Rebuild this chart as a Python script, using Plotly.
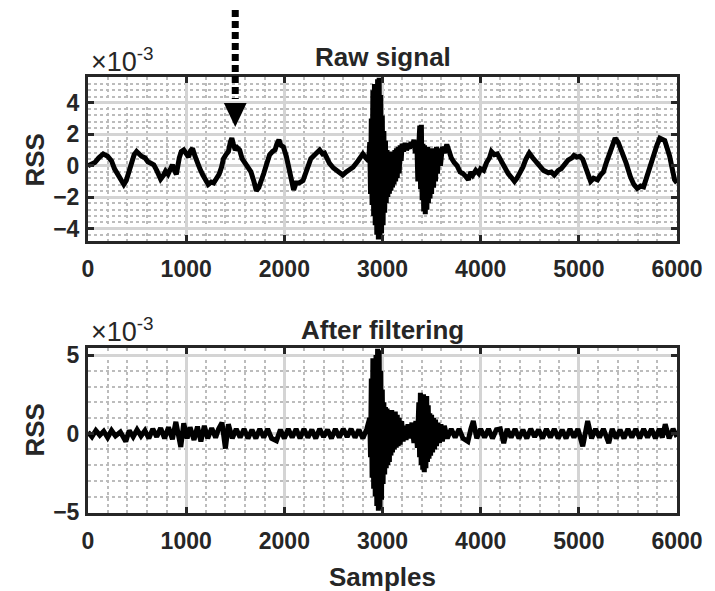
import plotly.graph_objects as go
from plotly.subplots import make_subplots

# ---------------- data (RSS values in units of 1e-3) ----------------
RAW_SAMPLES = [0, 40, 70, 110, 155, 200, 240, 270, 320, 365, 390, 420, 440, 470, 495, 520, 545, 580,
               610, 640, 670, 700, 740, 770, 790, 815, 840, 860, 880, 900, 930, 950, 975, 1000, 1025,
               1045, 1065, 1090, 1110, 1140, 1170, 1200, 1225, 1255, 1280, 1310, 1335, 1360, 1380,
               1410, 1430, 1450, 1465, 1480, 1500, 1520, 1545, 1570, 1600, 1630, 1660, 1690, 1715,
               1740, 1760, 1790, 1820, 1850, 1880, 1905, 1925, 1945, 1965, 1990, 2020, 2050, 2080,
               2095, 2120, 2150, 2190, 2215, 2240, 2270, 2310, 2340, 2360, 2390, 2410, 2440, 2460,
               2500, 2525, 2560, 2595, 2630, 2665, 2700, 2750, 2780, 2800, 2830, 2860,
               2870, 2878, 2886, 2894, 2902, 2910, 2918, 2926, 2934, 2942, 2950, 2958, 2966, 2974,
               2982, 2990, 2998, 3006, 3014, 3022, 3030, 3038, 3046, 3054, 3062, 3070, 3078, 3086,
               3094, 3102, 3110, 3118, 3126, 3134, 3142, 3150, 3160, 3170, 3180, 3190, 3200, 3215,
               3230, 3245, 3260, 3275, 3290, 3305, 3320, 3335,
               3350, 3360, 3370, 3380, 3388, 3396, 3404, 3412, 3420, 3428, 3436, 3444, 3452, 3460,
               3468, 3476, 3484, 3492, 3500, 3510, 3520, 3530, 3540, 3550, 3560, 3575, 3590, 3610,
               3630, 3655, 3680, 3700, 3730, 3760, 3790, 3820, 3850, 3875, 3900, 3920, 3950, 3980,
               4000, 4030, 4060, 4090, 4110, 4140, 4170, 4200, 4240, 4280, 4320, 4345, 4370, 4400,
               4430, 4460, 4495, 4530, 4560, 4600, 4640, 4690, 4720, 4750, 4790, 4820, 4850, 4890,
               4930, 4950, 4980, 5010, 5040, 5070, 5100, 5120, 5150, 5190, 5220, 5250, 5280, 5310,
               5340, 5370, 5400, 5440, 5480, 5525, 5560, 5595, 5630, 5660, 5690, 5740, 5795, 5825,
               5875, 5925, 5975, 6000]
RAW_VALUES = [0.0, 0.1, 0.2, 0.5, 0.75, 0.6, 0.3, -0.2, -0.7, -1.2, -0.95, -0.3, 0.3, 0.7, 0.9, 0.7,
              0.6, 0.5, 0.25, 0.15, 0.05, -0.3, -0.85, -0.6, -0.35, -0.55, -0.3, 0.05, -0.3, -0.55,
              0.5, 0.9, 1.0, 0.8, 0.55, 0.95, 1.1, 0.6, 0.2, -0.2, -0.6, -0.95, -1.2, -1.05, -1.1,
              -0.8, -0.55, -0.1, 0.45, 0.75, 0.9, 1.5, 1.75, 1.4, 1.0, 1.15, 1.0, 0.45, 0.2, -0.1,
              -0.4, -1.0, -1.6, -1.4, -1.1, -0.5, 0.1, 0.7, 0.9, 1.0, 1.4, 1.65, 1.3, 1.2, 0.6, -0.2,
              -1.3, -1.55, -1.1, -1.1, -0.95, -0.5, 0.05, 0.45, 0.7, 0.85, 1.0, 0.75, 0.8, 0.4, 0.15,
              -0.15, -0.25, -0.45, -0.6, -0.4, -0.25, -0.1, 0.3, 0.5, 0.75, 0.5, 0.3,
              1.5, -1.8, 3.0, -2.5, 4.8, -3.2, 5.2, -3.8, 4.6, -4.4, 5.5, -4.7, 5.6, -4.7,
              4.5, -4.3, 3.2, -3.8, 2.2, -3.0, 1.6, -2.4, 1.0, -2.0, 0.9, -1.8, 0.8, -1.6,
              0.9, -1.4, 0.7, -1.2, 1.0, -1.0, 1.1, -0.8, 1.2, -0.5, 1.3, 0.3, 1.4, 0.9,
              1.45, 1.0, 1.2, 1.1, 1.5, 1.2, 1.65, 0.8,
              1.5, -1.0, 1.3, 2.55, -1.5, 2.6, -2.2, 1.4, -2.9, 1.3, -3.1, 1.2, -2.8, 1.2,
              -2.4, 1.1, -2.1, 1.0, -1.8, 1.1, -1.4, 1.0, -1.0, 1.2, -0.5, 1.1, 0.0, 1.2,
              0.8, 1.35, 0.9, 0.5, 0.2, 0.0, -0.4, -0.5, -0.7, -0.9, -0.4, -0.6, -0.3, -0.5,
              -0.2, -0.3, 0.2, 0.5, 0.9, 0.7, 0.75, 0.4, -0.1, -0.5, -0.8, -1.0, -0.8, -0.5,
              -0.1, 0.4, 0.8, 0.5, 0.3, 0.0, -0.3, -0.45, -0.4, -0.6, -0.3, -0.2, 0.1, 0.35,
              0.5, 0.65, 0.55, 0.6, 0.4, -0.2, -0.7, -1.0, -0.8, -0.9, -0.6, -0.4, 0.2, 0.8,
              1.3, 1.75, 1.5, 0.9, 0.2, -0.7, -1.2, -1.45, -1.3, -1.35, -0.7, 0.3, 1.3, 1.75,
              1.6, 0.6, -0.9, -1.1]

FILT_SAMPLES = [0, 40, 80, 120, 160, 200, 240, 280, 330, 385, 420, 460, 500, 540, 580, 620, 660,
                700, 740, 780, 820, 860, 895, 945, 975, 1010, 1040, 1080, 1115, 1150, 1185, 1220,
                1260, 1300, 1330, 1365, 1400, 1430, 1470, 1510, 1550, 1590, 1630, 1670, 1710, 1750,
                1790, 1830, 1870, 1920, 1960, 2000, 2040, 2080, 2120, 2160, 2200, 2240, 2280, 2320,
                2360, 2400, 2440, 2480, 2520, 2560, 2600, 2640, 2680, 2720, 2760, 2800, 2840,
                2870, 2878, 2886, 2894, 2902, 2910, 2918, 2926, 2934, 2942, 2950, 2958, 2966, 2974,
                2982, 2990, 2998, 3006, 3014, 3022, 3030, 3038, 3046, 3054, 3062, 3070, 3078, 3086,
                3094, 3102, 3110, 3120, 3130, 3140, 3150, 3160, 3170, 3180, 3195, 3210, 3225, 3240,
                3260, 3280, 3300, 3320, 3340, 3355,
                3370, 3378, 3386, 3394, 3402, 3410, 3418, 3426, 3434, 3442, 3450, 3458, 3466, 3474,
                3482, 3490, 3500, 3510, 3520, 3530, 3540, 3550, 3565, 3580, 3595, 3610, 3630,
                3660, 3700, 3740, 3780, 3820, 3870, 3900, 3925, 3960, 4000, 4040, 4080, 4120, 4160,
                4200, 4235, 4270, 4310, 4350, 4390, 4430, 4470, 4510, 4550, 4590, 4630, 4670, 4710,
                4750, 4790, 4830, 4870, 4910, 4950, 4990, 5040, 5090, 5130, 5170, 5210, 5250, 5305,
                5340, 5380, 5420, 5460, 5500, 5540, 5580, 5620, 5660, 5700, 5740, 5780, 5820, 5850,
                5880, 5920, 5960, 6000]
FILT_VALUES = [0.1, -0.2, 0.2, -0.1, 0.15, -0.25, 0.2, -0.15, 0.1, -0.5, 0.2, -0.2, 0.25, -0.15,
               0.2, -0.3, 0.3, -0.2, 0.35, -0.3, 0.4, -0.35, 0.75, -0.85, 0.65, -0.3, 0.4, -0.4,
               0.45, -0.5, 0.5, -0.3, 0.35, -0.25, 0.3, 0.7, -0.95, 0.6, -0.3, 0.3, -0.25, 0.3,
               -0.3, 0.25, -0.3, 0.3, -0.25, 0.3, -0.3, -0.45, 0.25, -0.3, 0.3, -0.25, 0.3, -0.3,
               0.3, -0.25, 0.25, -0.3, 0.3, -0.2, 0.25, -0.3, 0.3, -0.25, 0.3, -0.2, 0.3, -0.25,
               0.25, -0.3, 0.3,
               1.0, -1.5, 3.5, -2.8, 4.8, -3.5, 4.5, -4.0, 5.0, -4.6, 5.4, -4.9, 5.3, -4.8,
               4.0, -4.2, 2.8, -3.2, 2.0, -2.6, 1.7, -2.2, 1.6, -2.0, 1.5, -1.8, 1.4, -1.4,
               1.5, -1.2, 1.3, -1.0, 1.4, -0.9, 1.2, -0.8, 1.0, -0.7, 0.8, -0.5, 0.5, -0.4,
               0.6, -0.3, 0.7, -0.6, 0.8, -0.9,
               2.0, -1.5, 2.6, -2.0, 2.2, -2.3, 2.5, -2.45, 2.3, -2.2, 2.4, -1.8, 1.8, -1.6,
               1.3, -1.4, 1.2, -1.2, 1.0, -1.0, 0.9, -0.8, 0.7, -0.6, 0.6, -0.5, 0.5,
               -0.3, 0.3, -0.25, 0.3, -0.3, -0.5, 0.3, 0.8, -0.3, 0.3, -0.25, 0.3, -0.3, 0.25,
               0.3, -0.6, 0.3, -0.25, 0.3, -0.3, 0.25, -0.3, 0.3, -0.2, 0.25, -0.3, 0.3, -0.25,
               0.3, -0.3, 0.25, -0.3, 0.3, -0.25, 0.3, -0.8, 0.8, -0.3, 0.3, -0.25, 0.3, -0.6,
               0.3, -0.3, 0.25, -0.3, 0.3, -0.25, 0.3, -0.3, 0.3, -0.25, 0.3, -0.3, 0.3, -0.25,
               0.6, -0.3, 0.3, -0.2]

X_TICKS = [0, 1000, 2000, 3000, 4000, 5000, 6000]
RAW_YTICKS = [-4, -2, 0, 2, 4]
FILT_YTICKS = [-5, 0, 5]
ARROW_SAMPLE = 1500

# ---------------- figure ----------------
W, H = 715, 591
ML, MR, MT, MB = 88, 32, 77, 78
PW, PH = W - ML - MR, H - MT - MB
TOP_BOTTOM_PX = 241
BOT_TOP_PX = 348

def py(p):  # pixel row -> paper y
    return (H - MB - p) / PH

def px(p):  # pixel column -> paper x
    return (p - ML) / PW

INK = '#262626'
FONT = 'Liberation Sans'

fig = make_subplots(rows=2, cols=1)
fig.add_trace(go.Scatter(x=RAW_SAMPLES, y=RAW_VALUES, mode='lines',
                         line=dict(color='black', width=5), showlegend=False), row=1, col=1)
fig.add_trace(go.Scatter(x=FILT_SAMPLES, y=FILT_VALUES, mode='lines',
                         line=dict(color='black', width=5), showlegend=False), row=2, col=1)

tickfont = dict(family=FONT, size=23, color=INK, weight='bold')
common = dict(showline=True, linewidth=3, linecolor=INK, mirror='ticks', ticks='inside',
              ticklen=6, tickwidth=3, tickcolor=INK, tickfont=tickfont, zeroline=False,
              showgrid=True, gridcolor='#d4d4d4', gridwidth=2.5)
minor_grid = dict(showgrid=True, gridcolor='#bcbcbc', griddash='dot', gridwidth=2)

fig.update_layout(
    width=W, height=H, margin=dict(l=ML, r=MR, t=MT, b=MB),
    plot_bgcolor='white', paper_bgcolor='white',
    xaxis=dict(domain=[0, 1], anchor='y', range=[0, 6000], tickvals=X_TICKS,
               minor=dict(dtick=200, tick0=0, **minor_grid),
               ticklabelstandoff=5, **common),
    yaxis=dict(domain=[py(TOP_BOTTOM_PX), 1], anchor='x', range=[-4.8, 5.65], tickvals=RAW_YTICKS,
               minor=dict(dtick=0.4, tick0=0, **minor_grid),
               ticklabelstandoff=1, **common),
    xaxis2=dict(domain=[0, 1], anchor='y2', range=[0, 6000], tickvals=X_TICKS,
                minor=dict(dtick=200, tick0=0, **minor_grid),
                ticklabelstandoff=5, **common),
    yaxis2=dict(domain=[0, py(BOT_TOP_PX)], anchor='x2', range=[-5.05, 5.45], tickvals=FILT_YTICKS,
                minor=dict(dtick=1, tick0=0, **minor_grid),
                ticklabelstandoff=1, **common),
)

lab = dict(family=FONT, size=26, color=INK, weight='bold')
expo = dict(family=FONT, size=27, color=INK)
ann = [
    dict(text='Raw signal', x=0.5, y=py(57), xref='paper', yref='paper', showarrow=False,
         font=lab, xanchor='center', yanchor='middle'),
    dict(text='After filtering', x=0.5, y=py(330), xref='paper', yref='paper', showarrow=False,
         font=lab, xanchor='center', yanchor='middle'),
    dict(text='Samples', x=0.5, y=py(577), xref='paper', yref='paper', showarrow=False,
         font=lab, xanchor='center', yanchor='middle'),
    dict(text='RSS', x=px(34), y=py(160), xref='paper', yref='paper', showarrow=False,
         font=lab, textangle=-90, xanchor='center', yanchor='middle'),
    dict(text='RSS', x=px(34), y=py(430), xref='paper', yref='paper', showarrow=False,
         font=lab, textangle=-90, xanchor='center', yanchor='middle'),
    dict(text='×10<sup>-3</sup>', x=px(89), y=py(60), xref='paper', yref='paper', showarrow=False,
         font=expo, xanchor='left', yanchor='middle'),
    dict(text='×10<sup>-3</sup>', x=px(89), y=py(330), xref='paper', yref='paper', showarrow=False,
         font=expo, xanchor='left', yanchor='middle'),
]
fig.update_layout(annotations=ann)

ax = ARROW_SAMPLE / 6000.0
half = 11.5 / PW
fig.add_shape(type='line', xref='paper', yref='paper', x0=ax, x1=ax, y0=py(10), y1=py(99),
              line=dict(color='black', width=7, dash='7px,4px'))
fig.add_shape(type='path', xref='paper', yref='paper',
              path=f'M {ax - half} {py(103)} L {ax + half} {py(103)} L {ax} {py(127)} Z',
              fillcolor='black', line=dict(color='black', width=0))

fig.write_html('out.html')
